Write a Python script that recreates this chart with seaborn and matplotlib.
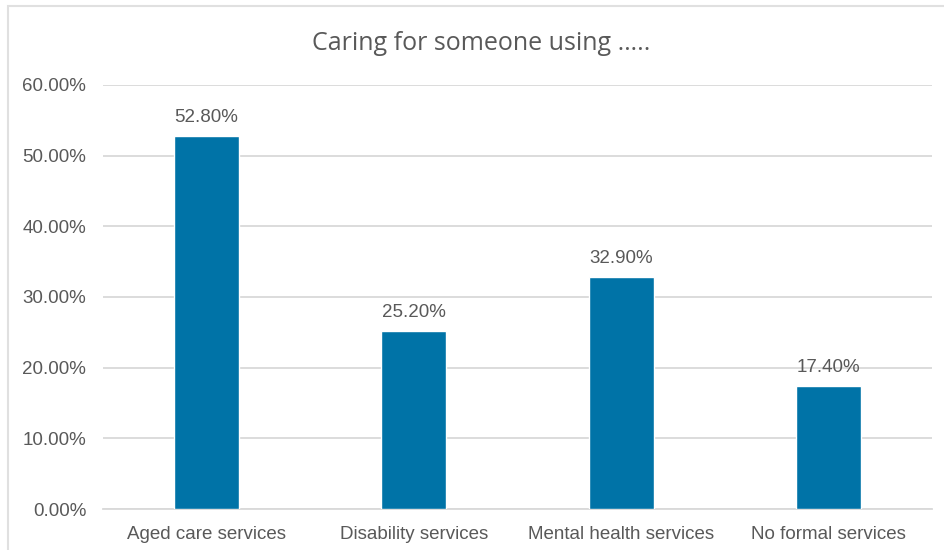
import matplotlib
matplotlib.use("Agg")
import matplotlib.pyplot as plt
import matplotlib.ticker as mticker
from matplotlib.patches import Rectangle
import seaborn as sns
import pandas as pd

# Share of carers by the type of service the person they care for uses
categories = ["Aged care services", "Disability services",
              "Mental health services", "No formal services"]
shares = [0.528, 0.252, 0.329, 0.174]
title = "Caring for someone using ….."

df = pd.DataFrame({"service": categories, "share": shares})

sns.set_theme(style="white")
plt.rcParams["font.family"] = ["Liberation Sans", "DejaVu Sans"]

text_grey = "#595959"
bar_blue = "#0073A7"
grid_grey = "#D9D9D9"

fig = plt.figure(figsize=(9.44, 5.5), dpi=100)
ax = fig.add_axes([103 / 944, 1 - 509 / 550, 829 / 944, 424 / 550])

sns.barplot(data=df, x="service", y="share", color=bar_blue,
            saturation=1, width=0.314, ax=ax, zorder=3)

ax.set_ylim(0, 0.6)
ax.set_xlim(-0.5, len(categories) - 0.5)
ax.yaxis.set_major_locator(mticker.MultipleLocator(0.1))
ax.yaxis.set_major_formatter(mticker.PercentFormatter(xmax=1, decimals=2))
ax.grid(axis="y", color=grid_grey, linewidth=1.3, zorder=0)
ax.grid(axis="x", visible=False)
for side in ["top", "right", "left"]:
    ax.spines[side].set_visible(False)
ax.spines["bottom"].set_color(grid_grey)
ax.spines["bottom"].set_linewidth(1.3)

ax.set_xlabel("")
ax.set_ylabel("")
ax.tick_params(axis="y", length=0, pad=12, labelsize=13.5, labelcolor=text_grey)
ax.tick_params(axis="x", length=0, pad=12, labelsize=13.5, labelcolor=text_grey)

for patch, val in zip(ax.patches, shares):
    ax.annotate(f"{val * 100:.2f}%",
                xy=(patch.get_x() + patch.get_width() / 2, val),
                xytext=(0, 7), textcoords="offset points",
                ha="center", va="bottom", fontsize=13.5, color=text_grey)

fig.text(481 / 944, 1 - 43 / 550, title, ha="center", va="center",
         fontsize=18, color=text_grey, family=["Open Sans", "DejaVu Sans"])

# Light frame around the chart area, running off the right and bottom edges
fig.patches.append(Rectangle((8 / 944, -10 / 550), 950 / 944, 554 / 550,
                             transform=fig.transFigure, fill=False,
                             edgecolor="#E0E0E0", linewidth=1.5))

fig.savefig("out.png", dpi=100, facecolor="white")
